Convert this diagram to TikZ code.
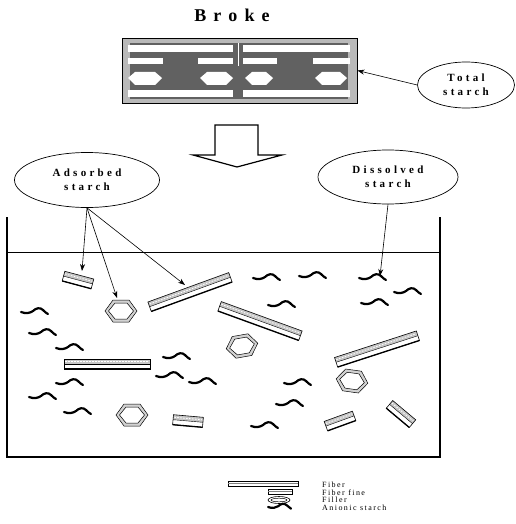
\documentclass[tikz,border=0pt]{standalone}
\usepackage{fontspec}
\setmainfont{Liberation Serif}
\usetikzlibrary{shapes.geometric,arrows.meta}
\begin{document}
\begin{tikzpicture}[x=1pt,y=-1pt,
  lbl/.style={font=\fontsize{11}{14}\selectfont\bfseries\addfontfeature{LetterSpace=30}, align=center},
  oval/.style={draw, ellipse, inner sep=0pt, line width=0.7pt},
  arr/.style={-{Stealth[length=7pt,width=5pt]}, line width=0.6pt},
  leg/.style={font=\fontsize{8}{8}\selectfont\addfontfeature{LetterSpace=18}, anchor=base west, inner sep=0pt},
  bar/.style={fill=white},
  fiber/.pic={
    \fill[white] (-43,-5) rectangle (43,5);
    \fill[gray!45] (-43,-5) rectangle (43,0);
    \draw[white, line width=0.8pt, dash pattern=on 1.5pt off 1.5pt] (-42,-2.5) -- (42,-2.5);
    \draw[line width=0.6pt] (-43,-5) rectangle (43,5);
    \draw[line width=0.4pt] (-43,0) -- (43,0);
    \draw[line width=1.3pt] (-43,5) -- (43,5);
  },
  fine/.pic={
    \fill[white] (-15,-5) rectangle (15,5);
    \fill[gray!45] (-15,-5) rectangle (15,0);
    \draw[white, line width=0.8pt, dash pattern=on 1.5pt off 1.5pt] (-14,-2.5) -- (14,-2.5);
    \draw[line width=0.6pt] (-15,-5) rectangle (15,5);
    \draw[line width=0.4pt] (-15,0) -- (15,0);
    \draw[line width=1.3pt] (-15,5) -- (15,5);
  },
  hexa/.pic={
    \filldraw[fill=gray!35, line width=0.5pt, even odd rule]
      (-16,0) -- (-8,-11) -- (8,-11) -- (16,0) -- (8,11) -- (-8,11) -- cycle
      (-12.5,0) -- (-6,-8) -- (6,-8) -- (12.5,0) -- (6,8) -- (-6,8) -- cycle;
  },
  squig/.pic={
    \draw[line width=2.2pt, line cap=round]
      (-14,0) .. controls (-9,2) and (-5,1) .. (-2,-1)
      .. controls (1,-4) and (5,-5) .. (8,-2)
      .. controls (10,0) and (11,1) .. (13,2);
  }
]
\useasboundingbox (0,0) rectangle (515,524);

% title
\node[font=\fontsize{18}{20}\selectfont\bfseries\addfontfeature{LetterSpace=40}, anchor=base] (title) at (232,22) {Broke};

% broke sheet
\node[draw, line width=0.8pt, fill=gray!55, minimum width=235pt, minimum height=65pt, inner sep=0pt] (brk) at (239.5,70.5) {};
\fill[black!62] (130,43) rectangle (348,99);
\fill[bar] (128,45) rectangle (233,52);
\fill[bar] (243,45) rectangle (350,52);
\fill[bar] (128,58) rectangle (163,64);
\fill[bar] (198,58) rectangle (233,64);
\fill[bar] (243,58) rectangle (277,64);
\fill[bar] (313,58) rectangle (350,64);
\fill[bar] (128,90) rectangle (233,97);
\fill[bar] (243,90) rectangle (350,97);
\foreach \a/\b in {128/162,200/233,245/273,315/347}{
  \fill[bar] (\a,78) -- (\a+7,72) -- (\b-7,72) -- (\b,78) -- (\b-7,85) -- (\a+7,85) -- cycle;
}
\draw[white, line width=0.6pt] (238,43) -- (238,66);

% total starch
\node[oval, lbl, minimum width=97pt, minimum height=46pt] (tot) at (466,85) {Total\\starch};
\draw[arr] (tot.west) -- (brk.east);

% big hollow arrow
\draw[line width=1.2pt, fill=white, line join=miter]
  (215,125) -- (258,125) -- (258,155) -- (282,155) -- (237,167) -- (193,155) -- (215,155) -- cycle;

% ellipses
\node[oval, lbl, minimum width=145pt, minimum height=55pt] (ads) at (87,180) {Adsorbed\\starch};
\node[oval, lbl, minimum width=140pt, minimum height=54pt] (dis) at (388,177) {Dissolved\\starch};

% tank
\draw[line width=2pt] (7,217) -- (7,457) -- (440,457) -- (440,217);
\draw[line width=0.6pt] (7,252) -- (440,252);

% particles
\pic[rotate=20] at (190,292) {fiber};
\pic[rotate=-20] at (260,321) {fiber};
\pic at (107,364) {fiber};
\pic[rotate=18] at (377,349) {fiber};

\pic[rotate=-15] at (78,280) {fine};
\pic[rotate=-5] at (188,421) {fine};
\pic[rotate=20] at (340,421) {fine};
\pic[rotate=-40] at (401,414) {fine};

\pic at (121,311) {hexa};
\pic[rotate=10] at (242,346) {hexa};
\pic[rotate=-8] at (352,381) {hexa};
\pic at (132,415) {hexa};

\foreach \p in {(267,278),(313,276),(373,278),(408,292),(282,305),(375,303),(35,312),(43,333),(70,348),(177,357),(70,383),(170,376),(203,382),(298,383),(43,397),(78,412),(290,404),(265,426)}{
  \pic at \p {squig};
}

% arrows to particles
\coordinate (t1) at (82,271);
\coordinate (t2) at (117,298);
\coordinate (t3) at (185,285);
\coordinate (t4) at (380,276);
\draw[arr] (ads.south) -- (t1);
\draw[arr] (ads.south) -- (t2);
\draw[arr] (ads.south) -- (t3);
\draw[arr] (dis.south) -- (t4);

% legend
\draw[line width=0.6pt, fill=white] (228,481) rectangle (298,486);
\draw[gray, line width=0.4pt] (228,483.5) -- (298,483.5);
\draw[line width=0.6pt, fill=white] (268,489) rectangle (292,494);
\draw[gray, line width=0.4pt] (268,491.5) -- (292,491.5);
\draw[line width=0.6pt] (279,500) ellipse (11 and 3.5);
\draw[line width=0.5pt] (279,500) ellipse (8 and 1.8);
\pic[scale=0.85] at (280,507) {squig};
\node[leg] (l1) at (322,487.5) {Fiber};
\node[leg] (l2) at (322,495) {Fiber fine};
\node[leg] (l3) at (322,502.5) {Filler};
\node[leg] (l4) at (322,510) {Anionic starch};
\end{tikzpicture}
\end{document}
